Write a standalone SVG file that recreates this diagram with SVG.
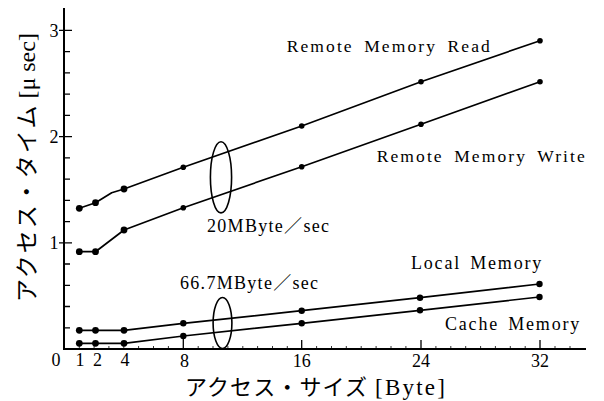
<svg xmlns="http://www.w3.org/2000/svg" width="604" height="401" viewBox="0 0 604 401">
<style>
.ax{stroke:#000;stroke-width:2;fill:none}
.tk{stroke:#000;stroke-width:1.3}
.mt{stroke:#000;stroke-width:0.8}
.ln{stroke:#000;stroke-width:1.7;fill:none;stroke-linejoin:round}
.el{stroke:#000;stroke-width:1.6;fill:none}
.dot{fill:#000}
text{font-family:'Liberation Serif','Noto Sans CJK JP',serif;fill:#000}
.num{font-size:18px;text-anchor:middle}
.lab{font-size:17.5px;letter-spacing:2.1px;word-spacing:4px}
.lab2{font-size:18px;letter-spacing:1.8px;word-spacing:3px}
.rate{font-size:18px;letter-spacing:1.3px}
.jp{font-family:'Noto Sans CJK JP',sans-serif}
</style>
<rect width="604" height="401" fill="#fff"/>
<g id="axes">
<path class="ax" d="M64,8 V349 H586"/>
<g id="y-ticks">
<path class="tk" d="M64,327.8h6M64,306.5h6M64,285.3h6M64,264h6M59,242.8h13M64,221.6h6M64,200.3h6M64,179.1h6M64,157.8h6M59,136.6h13M64,115.4h6M64,94.1h6M64,72.9h6M64,51.6h6M59,30.4h13"/>
</g>
<g id="x-ticks">
<path class="tk" d="M301.7,349v-9M421,349v-9M540,349v-9"/>
<path class="mt" d="M79.3,349v-3M94.1,349v-3M108.9,349v-3M123.8,349v-3M138.6,349v-3M153.5,349v-3M168.4,349v-3M198.2,349v-3M213,349v-3M227.9,349v-3M242.8,349v-3M257.6,349v-3M272.5,349v-3M287.3,349v-3M316.6,349v-3M331.5,349v-3M346.3,349v-3M361.2,349v-3M376.1,349v-3M391,349v-3M405.9,349v-3M435.9,349v-3M450.8,349v-3M465.7,349v-3M480.6,349v-3M495.4,349v-3M510.3,349v-3M525.2,349v-3M555,349v-3M570,349v-3"/>
</g>
<text class="num" x="54" y="36.5">3</text>
<text class="num" x="54" y="142.5">2</text>
<text class="num" x="54" y="248.5">1</text>
<text class="num" x="56" y="365.5">0</text>
<text class="num" x="80" y="366">1</text>
<text class="num" x="97.5" y="366">2</text>
<text class="num" x="125" y="366">4</text>
<text class="num" x="184.5" y="366.5">8</text>
<text class="num" x="301.7" y="366.5">16</text>
<text class="num" x="421" y="366.5">24</text>
<text class="num" x="540" y="366.5">32</text>
<text id="x-title" x="185" y="395" font-size="22"><tspan class="jp" letter-spacing="1.1">アクセス・サイズ</tspan><tspan dx="7" font-size="23" letter-spacing="2.2">[Byte]</tspan></text>
<text id="y-title" transform="translate(35,302) rotate(-90)" font-size="23"><tspan class="jp" letter-spacing="2">アクセス・タイム</tspan><tspan dx="5" font-size="24">[μ sec]</tspan></text>
</g>
<g id="connectors">
<polyline id="read" class="ln" points="79.3,208.3 95.5,202.7 111.7,192.7 124,189 183.3,167.3 301.7,126 421,81.7 540,40.7"/>
<polyline id="write" class="ln" points="79.3,251.7 95.5,251.7 124,230 183.3,207.7 301.7,166.7 421,124.3 540,81.7"/>
<polyline id="local" class="ln" points="79.3,330.3 95.5,330.3 124,330.3 183.3,323.3 301.7,310.7 420,297.7 539.5,284"/>
<polyline id="cache" class="ln" points="79.3,343.3 95.5,343.3 124,343.3 183.3,336 301.7,323.3 420,310.3 539.5,297"/>
<path class="tk" d="M183.3,336V349"/>
</g>
<g id="read-points">
<circle class="dot" cx="79.3" cy="208.3" r="3.4"/><circle class="dot" cx="95.5" cy="202.7" r="3.4"/><circle class="dot" cx="124" cy="189" r="3.4"/><circle class="dot" cx="183.3" cy="167.3" r="2.8"/><circle class="dot" cx="301.7" cy="126" r="2.8"/><circle class="dot" cx="421" cy="81.7" r="2.8"/><circle class="dot" cx="540" cy="40.7" r="2.8"/>
</g>
<g id="write-points">
<circle class="dot" cx="79.3" cy="251.7" r="3.4"/><circle class="dot" cx="95.5" cy="251.7" r="3.4"/><circle class="dot" cx="124" cy="230" r="3.4"/><circle class="dot" cx="183.3" cy="207.7" r="2.8"/><circle class="dot" cx="301.7" cy="166.7" r="2.8"/><circle class="dot" cx="421" cy="124.3" r="2.8"/><circle class="dot" cx="540" cy="81.7" r="2.8"/>
</g>
<g id="local-points">
<circle class="dot" cx="79.3" cy="330.3" r="3.4"/><circle class="dot" cx="95.5" cy="330.3" r="3.4"/><circle class="dot" cx="124" cy="330.3" r="3.4"/><circle class="dot" cx="183.3" cy="323.3" r="3.2"/><circle class="dot" cx="301.7" cy="310.7" r="3.2"/><circle class="dot" cx="420" cy="297.7" r="3.2"/><circle class="dot" cx="539.5" cy="284" r="3.2"/>
</g>
<g id="cache-points">
<circle class="dot" cx="79.3" cy="343.3" r="3.4"/><circle class="dot" cx="95.5" cy="343.3" r="3.4"/><circle class="dot" cx="124" cy="343.3" r="3.4"/><circle class="dot" cx="183.3" cy="336" r="3.2"/><circle class="dot" cx="301.7" cy="323.3" r="3.2"/><circle class="dot" cx="420" cy="310.3" r="3.2"/><circle class="dot" cx="539.5" cy="297" r="3.2"/>
</g>
<g id="label-read"><text class="lab" x="286.7" y="52.3">Remote Memory Read</text></g>
<g id="label-write"><text class="lab" x="376.7" y="161.7">Remote Memory Write</text></g>
<g id="label-local"><text class="lab2" x="411" y="269.3">Local Memory</text></g>
<g id="label-cache"><text class="lab2" x="445" y="330">Cache Memory</text></g>
<g id="rate-20">
<ellipse class="el" cx="221" cy="177.3" rx="10.6" ry="35.6"/>
<text class="rate" x="207" y="232.3">20MByte／sec</text>
</g>
<g id="rate-66">
<ellipse class="el" cx="222.5" cy="323" rx="9.4" ry="25.5"/>
<text class="rate" x="180" y="288.5">66.7MByte／sec</text>
</g>
</svg>
